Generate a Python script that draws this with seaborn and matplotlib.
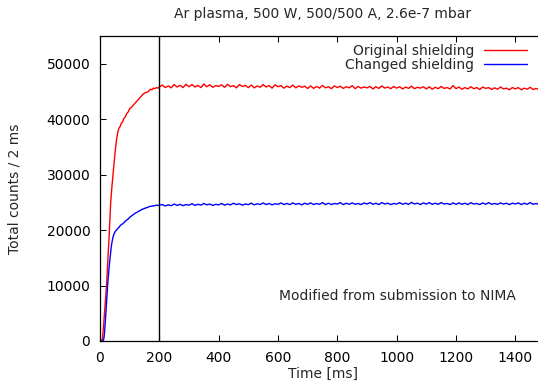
import numpy as np
import pandas as pd
import matplotlib
matplotlib.use("Agg")
import matplotlib.pyplot as plt
import seaborn as sns

# ---- data ----
rise_time = [0, 4, 8, 10, 12, 14, 16, 18, 20, 22, 24, 26, 28, 30, 32, 34, 36, 38, 40,
             44, 48, 52, 56, 60, 64, 68, 72, 76, 80, 85, 90, 95, 100, 105, 110, 115,
             120, 125, 130, 135, 140, 145, 150, 155, 160, 165, 170, 175, 180, 185,
             190, 195, 200]
plateau_time = list(range(210, 1501, 10))
time_ms = rise_time + plateau_time

original_rise = [0, 0, 300, 1500, 2800, 4200, 5500, 7000, 8500, 10000, 12200, 14300,
                 16200, 18000, 20300, 22700, 25000, 26400, 27700, 30100, 32400, 34600,
                 36400, 37700, 38400, 38700, 39300, 39500, 40100, 40400, 41000, 41300,
                 41900, 42100, 42400, 42700, 43000, 43300, 43600, 43900, 44200, 44500,
                 44700, 44800, 44900, 45100, 45400, 45300, 45600, 45500, 45700, 45600,
                 45800]
original_plateau = [
    46150, 45700, 46000, 45650, 46250, 45800, 46100, 45700, 46300, 45850,
    46250, 45800, 46100, 45700, 46350, 45850, 46200, 45750, 46050, 45900,
    46200, 45750, 46300, 45850, 46050, 45650, 46250, 45900, 46100, 45700,
    46150, 45650, 46000, 45750, 46250, 45800, 46050, 45600, 46200, 45850,
    46050, 45600, 45950, 45700, 46150, 45650, 46000, 45750, 45950, 45550,
    46000, 45550, 45900, 45600, 46100, 45650, 45850, 45500, 46000, 45700,
    45950, 45550, 45850, 45650, 46050, 45500, 45900, 45600, 45800, 45650,
    45900, 45450, 45850, 45550, 46000, 45600, 45800, 45500, 45900, 45600,
    45850, 45450, 45800, 45550, 45950, 45500, 45750, 45600, 45850, 45450,
    45850, 45400, 45750, 45500, 45900, 45550, 45700, 45450, 46050, 45500,
    45800, 45400, 45700, 45450, 45850, 45500, 45700, 45350, 45800, 45550,
    45700, 45350, 45650, 45400, 45800, 45450, 45600, 45300, 45700, 45450,
    45700, 45300, 45600, 45400, 45750, 45350, 45550, 45300, 45650, 45450]

changed_rise = [0, 0, 0, 0, 200, 800, 2000, 3500, 5200, 7000, 8700, 10300, 11600,
                12800, 14000, 15000, 16100, 17000, 17700, 18800, 19400, 19800, 20000,
                20300, 20500, 20800, 21000, 21100, 21300, 21600, 21800, 22000, 22300,
                22500, 22700, 22900, 23100, 23200, 23400, 23500, 23700, 23800, 23900,
                24000, 24100, 24200, 24300, 24300, 24400, 24400, 24500, 24450, 24500]
changed_plateau = [
    24600, 24350, 24550, 24400, 24700, 24450, 24650, 24400, 24600, 24500,
    24750, 24450, 24650, 24500, 24800, 24550, 24700, 24450, 24650, 24550,
    24800, 24500, 24700, 24550, 24850, 24600, 24750, 24500, 24700, 24600,
    24850, 24550, 24750, 24600, 24900, 24600, 24800, 24550, 24750, 24650,
    24900, 24600, 24800, 24600, 24900, 24650, 24800, 24550, 24850, 24650,
    24900, 24600, 24800, 24650, 24950, 24600, 24850, 24600, 24800, 24700,
    24950, 24600, 24850, 24650, 24900, 24650, 24800, 24600, 24900, 24700,
    24950, 24650, 24850, 24600, 24950, 24700, 24850, 24600, 24800, 24700,
    24950, 24650, 24850, 24650, 25000, 24700, 24850, 24600, 24900, 24700,
    24950, 24650, 24850, 24650, 24950, 24700, 24800, 24600, 24900, 24650,
    24900, 24650, 24850, 24600, 24950, 24700, 24800, 24600, 24900, 24650,
    24950, 24650, 24800, 24650, 24900, 24700, 24850, 24600, 24850, 24700,
    24900, 24600, 24850, 24650, 24950, 24650, 24800, 24600, 24900, 24650]

series_names = ["Original shielding", "Changed shielding"]
series_colors = ["#ff0000", "#0000ff"]
marker_time = 200
x_ticks = [0, 200, 400, 600, 800, 1000, 1200, 1400]
y_ticks = [0, 10000, 20000, 30000, 40000, 50000]

df = pd.concat([
    pd.DataFrame({"time": time_ms, "counts": original_rise + original_plateau,
                  "series": series_names[0]}),
    pd.DataFrame({"time": time_ms, "counts": changed_rise + changed_plateau,
                  "series": series_names[1]}),
], ignore_index=True)

# ---- style ----
sns.set_style("white")
plt.rcParams["font.family"] = ["DejaVu Sans"]
FS = 10
plt.rcParams["font.size"] = FS

W, H = 538, 390
fig = plt.figure(figsize=(W / 100, H / 100), dpi=100)
ax_left, ax_right, ax_top, ax_bottom = 100, 545, 36, 341
ax = fig.add_axes([ax_left / W, 1 - ax_bottom / H,
                   (ax_right - ax_left) / W, (ax_bottom - ax_top) / H])

sns.lineplot(data=df, x="time", y="counts", hue="series", hue_order=series_names,
             palette=series_colors, linewidth=1.0, ax=ax, legend=True,
             estimator=None, sort=False)

ax.axvline(marker_time, color="black", linewidth=1.0)

ax.set_xlim(0, 1500)
ax.set_ylim(0, 55000)
ax.set_xticks(x_ticks)
ax.set_yticks(y_ticks)
ax.set_xticklabels([str(v) for v in x_ticks])
ax.set_yticklabels([str(v) for v in y_ticks])
ax.tick_params(axis="both", direction="in", length=4.5, width=0.75,
               labelsize=FS, pad=7, colors="black")
ax.tick_params(axis="x", top=True, bottom=True)
ax.tick_params(axis="y", left=True, right=False)
for s in ["left", "bottom", "top", "right"]:
    ax.spines[s].set_color("black")
    ax.spines[s].set_linewidth(0.9)

ax.set_xlabel("Time [ms]", fontsize=FS, va="center")
ax.set_ylabel("Total counts / 2 ms", fontsize=FS, va="center")
ax.xaxis.set_label_coords(0.5, (ax_bottom - 374) / (ax_bottom - ax_top))
ax.yaxis.set_label_coords((15 - ax_left) / (ax_right - ax_left), 0.5)

fig.text(322.5 / W, 1 - 14 / H, "Ar plasma, 500 W, 500/500 A, 2.6e-7 mbar",
         ha="center", va="center", fontsize=FS)

ax.text(1003, 8140, "Modified from submission to NIMA", ha="center", va="center",
        fontsize=FS)

handles, labels = ax.get_legend_handles_labels()
ax.legend(handles, labels, loc="upper right", markerfirst=False, frameon=False,
          bbox_to_anchor=(527 / W, 1 - 43.5 / H), bbox_transform=fig.transFigure,
          borderpad=0, borderaxespad=0, handlelength=3.1, handletextpad=0.7,
          labelspacing=0.0, fontsize=FS)

fig.savefig("out.png", dpi=100)
